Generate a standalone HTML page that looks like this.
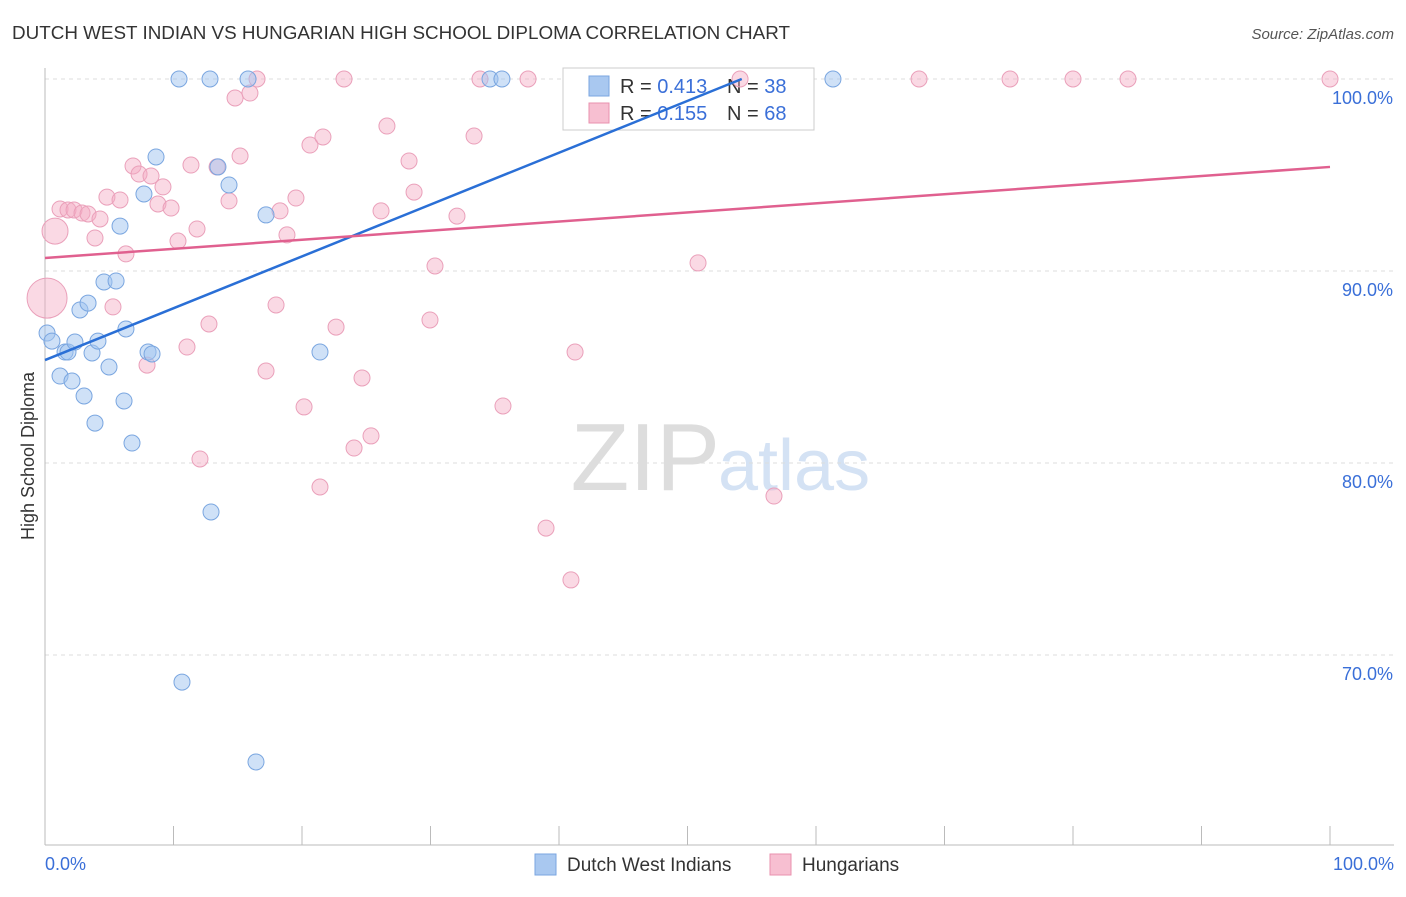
<!DOCTYPE html>
<html><head><meta charset="utf-8">
<style>
body{margin:0;background:#fff;font-family:"Liberation Sans",sans-serif;}
svg text{font-family:"Liberation Sans",sans-serif;}
</style></head>
<body>
<svg id="chart" width="1406" height="892">
<text x="12" y="39" font-size="18" fill="#333" textLength="778" lengthAdjust="spacingAndGlyphs">DUTCH WEST INDIAN VS HUNGARIAN HIGH SCHOOL DIPLOMA CORRELATION CHART</text>
<text x="1394" y="39" font-size="15" fill="#555" text-anchor="end" font-style="italic">Source: ZipAtlas.com</text>
<text x="720" y="490" font-size="96" fill="#ddd" text-anchor="end" font-family="Liberation Serif">ZIP</text>
<text x="718" y="490" font-size="72" fill="#d4e2f4">atlas</text>
<g id="grid"></g>
<g id="axes"></g>
<g>
<rect x="563" y="68" width="251" height="62" fill="#fff" stroke="#ccc"/>
<rect x="589" y="76" width="20" height="20" fill="#a9c8f0" stroke="#7aa6e0"/>
<rect x="589" y="103" width="20" height="20" fill="#f7bfd1" stroke="#e890ae"/>
<text x="620" y="93" font-size="20" fill="#333">R = <tspan fill="#3a6fd8">0.413</tspan></text>
<text x="727" y="93" font-size="20" fill="#333">N = <tspan fill="#3a6fd8">38</tspan></text>
<text x="620" y="120" font-size="20" fill="#333">R = <tspan fill="#3a6fd8">0.155</tspan></text>
<text x="727" y="120" font-size="20" fill="#333">N = <tspan fill="#3a6fd8">68</tspan></text>
</g>
<g id="marks"></g>
<text x="34" y="456" font-size="18" fill="#333" text-anchor="middle" transform="rotate(-90 34 456)">High School Diploma</text>
<g>
<rect x="535" y="854" width="21" height="21" fill="#a9c8f0" stroke="#7aa6e0"/>
<text x="567" y="871" font-size="19" fill="#333">Dutch West Indians</text>
</g>
<g>
<rect x="770" y="854" width="21" height="21" fill="#f7bfd1" stroke="#e890ae"/>
<text x="802" y="871" font-size="19" fill="#333">Hungarians</text>
</g>
</svg>
<script>
const blueX=[0.16,0.54,1.17,1.56,1.79,2.1,2.33,2.72,3.04,3.35,3.66,3.89,4.12,4.59,4.98,5.53,5.84,6.15,6.3,6.77,7.7,8.02,8.33,8.64,10.66,10.43,12.84,12.92,13.46,14.32,15.8,16.42,17.2,21.4,34.63,35.56,61.32];
const blueY=[86.77,86.35,84.53,85.78,85.78,84.27,86.3,87.97,83.49,88.33,85.73,82.08,86.35,89.43,85.0,89.48,92.34,83.23,86.98,81.04,94.01,85.78,85.68,95.94,68.59,100,100,77.45,95.42,94.48,100,64.43,92.92,85.78,100,100,100];
const pinkX=[0.16,0.78,1.17,1.79,2.26,2.88,3.35,3.89,4.28,4.82,5.29,5.84,6.3,6.85,7.32,7.94,8.25,8.79,9.18,9.81,10.35,11.05,11.36,11.83,12.06,12.76,13.39,14.32,14.79,15.18,15.95,16.5,17.2,17.98,18.29,18.83,19.53,20.16,20.62,21.4,21.63,22.65,23.27,24.05,24.67,25.37,26.15,26.61,28.33,28.72,29.96,30.35,32.06,33.39,33.85,35.64,37.59,38.99,40.93,41.25,50.82,54.09,56.73,68.02,75.1,80.0,84.28,100];
const pinkY=[88.59,92.08,93.23,93.18,93.18,93.02,92.97,91.72,92.71,93.85,88.13,93.7,90.89,95.47,95.05,85.1,94.95,93.49,94.38,93.28,91.56,86.04,95.52,92.19,80.21,87.24,95.42,93.65,99.01,95.99,99.27,100,84.79,88.23,93.13,91.88,93.8,82.92,96.56,78.75,96.98,87.08,100,80.78,84.43,81.41,93.13,97.55,95.73,94.11,87.45,90.26,92.86,97.03,100,82.97,100,76.61,73.91,85.78,90.42,100,78.28,100,100,100,100,100];
const pinkR=[20,13];
const blueTrend=[85.36,0.27];
const pinkTrend=[90.68,0.0474];
const yTicks=[70,80,90,100];
const xTickCount=10;
const NS="http://www.w3.org/2000/svg";
function sx(v){return 45+v*12.85;}
function sy(v){return 79+(100-v)*19.2;}
function mk(tag,attrs,parent){const e=document.createElementNS(NS,tag);for(const k in attrs)e.setAttribute(k,attrs[k]);parent.appendChild(e);return e;}
const grid=document.getElementById('grid'),axes=document.getElementById('axes'),marks=document.getElementById('marks');
yTicks.forEach(t=>{
 const l=mk('line',{x1:45,x2:1394,y1:sy(t),y2:sy(t),stroke:'#ddd','stroke-dasharray':'4,4'},grid);
 
 
 const tx=mk('text',{x:1393,y:sy(t)+25,'font-size':18,fill:'#3a6fd8','text-anchor':'end'},axes);
 tx.textContent=t.toFixed(1)+'%';
 
 
});
const ax=mk('line',{x1:45,x2:1394,y1:845,y2:845,stroke:'#bbb'},axes);


const ay=mk('line',{x1:45,x2:45,y1:68,y2:845,stroke:'#bbb'},axes);


for(let i=0;i<=xTickCount;i++){
 const v=i*100/xTickCount;
 const t=mk('line',{x1:sx(v),x2:sx(v),y1:826,y2:845,stroke:'#bbb'},axes);
 
 
}
const xl=mk('text',{x:45,y:870,'font-size':18,fill:'#3a6fd8'},axes);xl.textContent='0.0%';


const xr=mk('text',{x:1394,y:870,'font-size':18,fill:'#3a6fd8','text-anchor':'end'},axes);xr.textContent='100.0%';


pinkX.forEach((x,i)=>{
 const c=mk('circle',{cx:sx(x),cy:sy(pinkY[i]),r:pinkR[i]||8,fill:'rgba(245,170,196,0.45)',stroke:'#eaa0ba','stroke-width':1},marks);
 
 
});
blueX.forEach((x,i)=>{
 const c=mk('circle',{cx:sx(x),cy:sy(blueY[i]),r:8,fill:'rgba(160,195,240,0.5)',stroke:'#7aa6e0','stroke-width':1},marks);
 
 
});
const bEnd=Math.min(100,(100-blueTrend[0])/blueTrend[1]);
const bl=mk('line',{x1:sx(0),y1:sy(blueTrend[0]),x2:sx(bEnd),y2:sy(blueTrend[0]+blueTrend[1]*bEnd),stroke:'#2a6fd6','stroke-width':2.5},marks);


const pl=mk('line',{x1:sx(0),y1:sy(pinkTrend[0]),x2:sx(100),y2:sy(pinkTrend[0]+pinkTrend[1]*100),stroke:'#e0608f','stroke-width':2.5},marks);


</script>
</body></html>
